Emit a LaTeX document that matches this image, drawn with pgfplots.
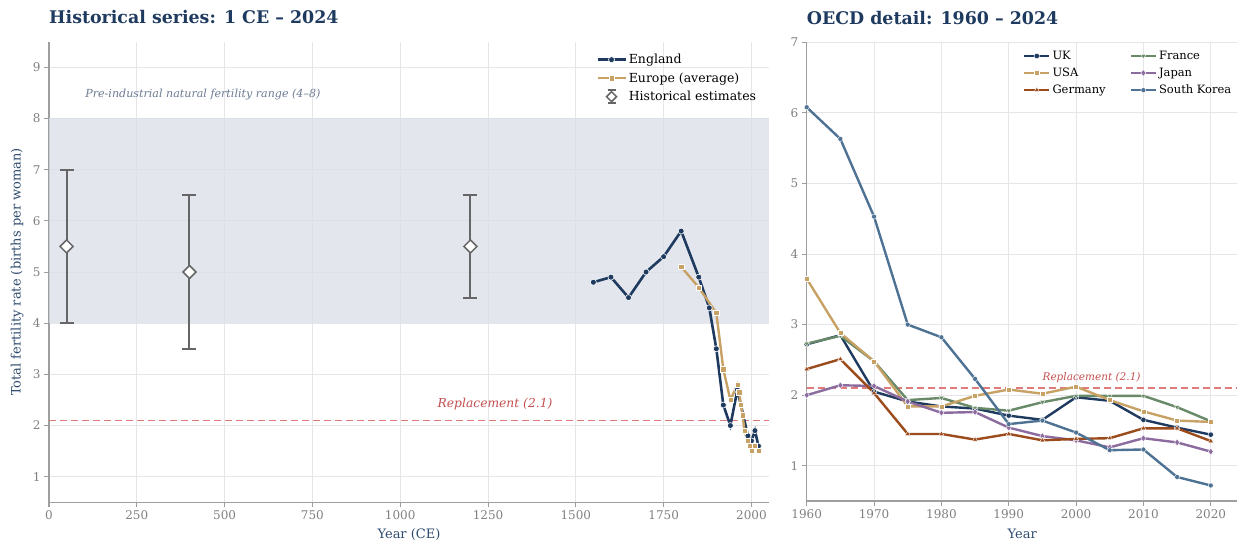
\documentclass[border=0pt]{standalone}
\usepackage{fontspec}
\setmainfont{DejaVu Serif}
\usepackage{pgfplots}
\pgfplotsset{compat=1.18}
\definecolor{navy}{HTML}{1F3A5F}
\definecolor{tanc}{HTML}{C8A165}
\definecolor{brownc}{HTML}{9B4B1C}
\definecolor{greenc}{HTML}{688A68}
\definecolor{purplec}{HTML}{8C6B9E}
\definecolor{koreac}{HTML}{4E7293}
\definecolor{repc}{HTML}{E07B7B}
\definecolor{reptext}{HTML}{C44E4E}
\definecolor{bandc}{HTML}{D9DFE7}
\definecolor{gridc}{HTML}{E6E6EA}
\definecolor{tickc}{HTML}{7F7F7F}
\definecolor{spinec}{HTML}{9E9E9E}
\definecolor{estc}{HTML}{666666}
\definecolor{labc}{HTML}{2F4B6E}
\definecolor{pretext}{HTML}{6C7A92}
\pgfplotsset{
  base/.style={
    scale only axis,
    axis x line*=bottom, axis y line*=left,
    axis line style={spinec, line width=1.5pt},
    tick align=outside, major tick length=5pt,
    tick style={spinec, line width=1pt},
    grid=major, major grid style={gridc, line width=0.8pt},
    ticklabel style={font=\fontsize{12}{14}\selectfont, text=tickc},
    /pgf/number format/assume math mode=true,
    /pgf/number format/1000 sep={},
    scaled ticks=false,
    legend cell align=left,
    legend image code/.code={\draw[mark repeat=2,mark phase=2,##1] plot coordinates {(0pt,0pt)(14pt,0pt)(28pt,0pt)};},
    title style={font=\fontsize{17.4}{20}\selectfont\bfseries, text=navy, at={(0,1)}, anchor=base west, yshift=12pt, inner sep=0pt},
  },
}
\begin{document}
\begin{tikzpicture}
% ---------------- Left panel ----------------
\begin{axis}[base,
  at={(49pt,39.7pt)}, anchor=south west,
  width=720pt, height=460.6pt,
  xmin=0, xmax=2050, ymin=0.5, ymax=9.5,
  xtick={0,250,...,2000}, ytick={1,2,...,9},
  title={Historical series: 1 CE – 2024},
  xlabel={Year (CE)},
  ylabel={Total fertility rate (births per woman)},
  every axis x label/.style={at={(axis description cs:0.5,-0.0795)}, anchor=base, font=\fontsize{13}{15}\selectfont, text=labc},
  every axis y label/.style={at={(axis description cs:-0.0444,0.5)}, rotate=90, anchor=center, font=\fontsize{13}{15}\selectfont, text=labc},
  legend style={at={(0.757,0.982)}, anchor=north west, draw=none, fill=none,
    font=\fontsize{12.5}{15}\selectfont, row sep=3.5pt, inner sep=2pt},
]
\addplot[draw=none, fill=bandc, fill opacity=0.75, forget plot] coordinates {(0,4) (2050,4) (2050,8) (0,8)} -- cycle;
\addplot[repc, dashed, dash pattern=on 7pt off 4pt, line width=1.8pt, forget plot] coordinates {(0,2.1) (2050,2.1)};
\node[font=\fontsize{12.3}{14}\selectfont\itshape, text=reptext] at (axis cs:1270,2.42) {Replacement (2.1)};
\node[font=\fontsize{11.1}{13}\selectfont\itshape, text=pretext, anchor=west, inner sep=0pt] at (axis cs:103,8.46) {Pre-industrial natural fertility range (4–8)};
\addplot[only marks, estc, forget plot, mark=square*, mark size=4.6pt,
  mark options={rotate=45, fill=white, draw=estc, line width=1.5pt},
  error bars/.cd, y dir=both, y explicit,
  error bar style={estc, line width=2pt},
  error mark options={estc, line width=2pt, mark size=7pt, rotate=90}]
  coordinates {(50,5.5) +- (0,1.5) (400,5.0) +- (0,1.5) (1200,5.5) +- (0,1.0)};
\addplot[navy, line width=2.6pt, mark=*, mark size=3pt, mark options={fill=navy, draw=white, line width=0.6pt}]
  coordinates {(1550,4.8)(1600,4.9)(1650,4.5)(1700,5.0)(1750,5.3)(1800,5.8)(1850,4.9)(1880,4.3)(1900,3.5)(1920,2.4)(1940,2.0)(1960,2.7)(1970,2.4)(1990,1.8)(2000,1.7)(2010,1.9)(2020,1.6)};
\addlegendentry{England}
\addplot[tanc, line width=2.4pt, mark=square*, mark size=2.6pt, mark options={fill=tanc, draw=white, line width=0.5pt}]
  coordinates {(1800,5.1)(1850,4.7)(1900,4.2)(1920,3.1)(1940,2.5)(1960,2.8)(1965,2.65)(1970,2.4)(1975,2.2)(1980,1.9)(1990,1.7)(1995,1.6)(2000,1.5)(2010,1.6)(2020,1.5)};
\addlegendentry{Europe (average)}
\addlegendimage{legend image code/.code={
  \draw[estc, line width=1.5pt] (14pt,-6.5pt) -- (14pt,6.5pt);
  \draw[estc, line width=1.5pt] (10pt,6.5pt) -- (18pt,6.5pt);
  \draw[estc, line width=1.5pt] (10pt,-6.5pt) -- (18pt,-6.5pt);
  \draw[estc, line width=1.5pt, fill=white] (14pt,-5pt) -- (19pt,0pt) -- (14pt,5pt) -- (9pt,0pt) -- cycle;
}}
\addlegendentry{Historical estimates}
\end{axis}
% ---------------- Right panel ----------------
\begin{axis}[base,
  at={(806.7pt,41pt)}, anchor=south west,
  width=431pt, height=458.7pt,
  xmin=1960, xmax=2024, ymin=0.5, ymax=7,
  xtick={1960,1970,...,2020}, ytick={1,2,...,7},
  title={OECD detail: 1960 – 2024},
  xlabel={Year},
  every axis x label/.style={at={(axis description cs:0.5,-0.082)}, anchor=base, font=\fontsize{13}{15}\selectfont, text=labc},
  legend columns=2,
  legend style={at={(0.497,0.99)}, anchor=north west, draw=none, fill=none,
    font=\fontsize{11.5}{13}\selectfont, row sep=3pt, inner sep=2pt,
    /tikz/every even column/.append style={column sep=22pt}},
  legend image code/.code={\draw[mark repeat=2,mark phase=2,#1] plot coordinates {(0pt,0pt)(12.5pt,0pt)(25pt,0pt)};},
]
\addplot[repc, dashed, dash pattern=on 7pt off 4pt, line width=1.8pt, forget plot] coordinates {(1960,2.1) (2024,2.1)};
\node[font=\fontsize{10.5}{12}\selectfont\itshape, text=reptext] at (axis cs:2002.3,2.25) {Replacement (2.1)};
\addplot[navy, line width=2.4pt, mark=*, mark size=2.7pt, mark options={fill=navy, draw=white, line width=0.4pt}]
  coordinates {(1960,2.72)(1965,2.85)(1970,2.05)(1975,1.91)(1980,1.84)(1985,1.81)(1990,1.71)(1995,1.65)(2000,1.97)(2005,1.92)(2010,1.65)(2015,1.54)(2020,1.44)};
\addlegendentry{UK}
\addplot[greenc, line width=2.4pt, mark=triangle*, mark size=3pt, mark options={rotate=180, fill=greenc, draw=white, line width=0.4pt}]
  coordinates {(1960,2.73)(1965,2.84)(1970,2.48)(1975,1.93)(1980,1.96)(1985,1.82)(1990,1.78)(1995,1.90)(2000,1.99)(2005,1.99)(2010,1.99)(2015,1.83)(2020,1.63)};
\addlegendentry{France}
\addplot[tanc, line width=2.4pt, mark=square*, mark size=2.5pt, mark options={fill=tanc, draw=white, line width=0.4pt}]
  coordinates {(1960,3.65)(1965,2.88)(1970,2.48)(1975,1.84)(1980,1.84)(1985,1.99)(1990,2.08)(1995,2.02)(2000,2.12)(2005,1.93)(2010,1.77)(2015,1.64)(2020,1.62)};
\addlegendentry{USA}
\addplot[purplec, line width=2.4pt, mark=diamond*, mark size=3.4pt, mark options={fill=purplec, draw=white, line width=0.4pt}]
  coordinates {(1960,2.00)(1965,2.14)(1970,2.13)(1975,1.91)(1980,1.75)(1985,1.76)(1990,1.54)(1995,1.42)(2000,1.36)(2005,1.26)(2010,1.39)(2015,1.33)(2020,1.20)};
\addlegendentry{Japan}
\addplot[brownc, line width=2.4pt, mark=triangle*, mark size=3pt, mark options={fill=brownc, draw=white, line width=0.4pt}]
  coordinates {(1960,2.37)(1965,2.51)(1970,2.03)(1975,1.45)(1980,1.45)(1985,1.37)(1990,1.45)(1995,1.36)(2000,1.38)(2005,1.39)(2010,1.53)(2015,1.53)(2020,1.35)};
\addlegendentry{Germany}
\addplot[koreac, line width=2.4pt, mark=*, mark size=2.5pt, mark options={fill=koreac, draw=white, line width=0.4pt}]
  coordinates {(1960,6.08)(1965,5.63)(1970,4.53)(1975,3.00)(1980,2.82)(1985,2.23)(1990,1.59)(1995,1.64)(2000,1.47)(2005,1.22)(2010,1.23)(2015,0.84)(2020,0.72)};
\addlegendentry{South Korea}
\end{axis}
\pgfresetboundingbox
\useasboundingbox (0pt,0pt) rectangle (1237pt,542pt);
\end{tikzpicture}
\end{document}
